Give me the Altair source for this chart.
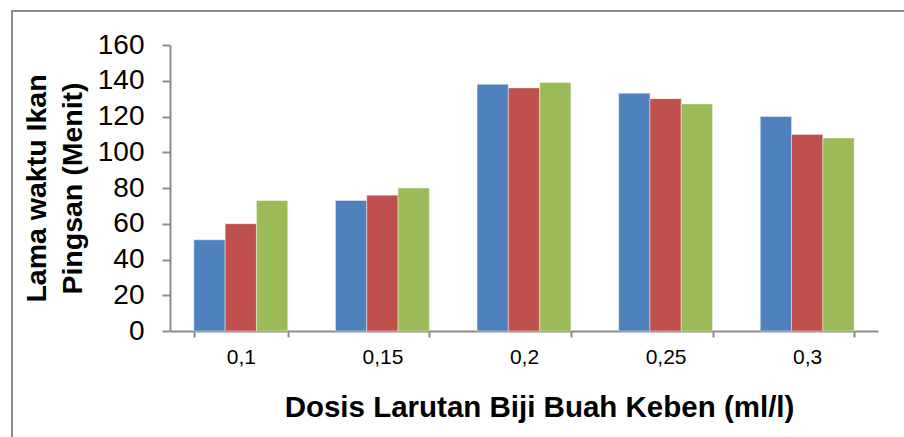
import altair as alt
import pandas as pd

# Dose categories and the three replicate series
doses = ["0,1", "0,15", "0,2", "0,25", "0,3"]
series_names = ["Ulangan 1", "Ulangan 2", "Ulangan 3"]
ulangan_1 = [51, 73, 138, 133, 120]
ulangan_2 = [60, 76, 136, 130, 110]
ulangan_3 = [73, 80, 139, 127, 108]
y_ticks = [0, 20, 40, 60, 80, 100, 120, 140, 160]
colors = ["#4F81BD", "#C0504D", "#9BBB59"]

rows = []
for name, vals in zip(series_names, [ulangan_1, ulangan_2, ulangan_3]):
    for d, v in zip(doses, vals):
        rows.append({"dosis": d, "seri": name, "menit": v})
df = pd.DataFrame(rows)

W, H = 708, 286
FONT = "Liberation Sans"
AXIS_GREY = "#8c8c8c"

bars = alt.Chart(df).mark_bar(stroke="white", strokeWidth=0.6, strokeOpacity=0.7).encode(
    x=alt.X(
        "dosis:N",
        sort=doses,
        scale=alt.Scale(paddingInner=0.337, paddingOuter=0.1685),
        axis=alt.Axis(
            title="Dosis Larutan Biji Buah Keben (ml/l)",
            labelAngle=0,
            labelFont=FONT,
            labelFontSize=21,
            labelColor="black",
            labelPadding=9,
            titleFont=FONT,
            titleFontSize=29.5,
            titleFontWeight="bold",
            titleColor="black",
            titleX=369,
            titleY=76,
            titleAlign="center",
            titleBaseline="middle",
            domainColor=AXIS_GREY,
            domainWidth=2,
            tickColor=AXIS_GREY,
            tickWidth=2,
            tickSize=6,
            tickBand="extent",
            grid=False,
        ),
    ),
    xOffset=alt.XOffset("seri:N", sort=series_names, scale=alt.Scale(paddingInner=0, paddingOuter=0)),
    y=alt.Y(
        "menit:Q",
        scale=alt.Scale(domain=[0, 160], nice=False),
        axis=alt.Axis(
            title=["Lama waktu Ikan", "Pingsan (Menit)"],
            values=y_ticks,
            labelFont=FONT,
            labelFontSize=28,
            labelColor="black",
            labelPadding=18,
            titleFont=FONT,
            titleFontSize=28.5,
            titleFontWeight="bold",
            titleColor="black",
            titleLineHeight=36,
            titleX=-134,
            titleY=H / 2,
            titleAlign="center",
            titleBaseline="middle",
            domainColor=AXIS_GREY,
            domainWidth=2,
            tickColor=AXIS_GREY,
            tickWidth=2,
            tickSize=8,
            grid=False,
        ),
    ),
    color=alt.Color(
        "seri:N",
        sort=series_names,
        scale=alt.Scale(domain=series_names, range=colors),
        legend=None,
    ),
)

# Outer chart-area border
frame = alt.Chart(pd.DataFrame({"k": [0]})).mark_rect(
    fill=None, stroke=AXIS_GREY, strokeWidth=2
).encode(
    x=alt.value(-158),
    x2=alt.value(745),
    y=alt.value(-34),
    y2=alt.value(410),
)

chart = alt.layer(frame, bars).properties(
    width=W,
    height=H,
    autosize=alt.AutoSizeParams(type="none"),
    padding={"left": 170, "top": 45, "right": 26, "bottom": 106},
    background="white",
).configure_view(stroke=None)

chart.save("out.html", embed_options={"renderer": "svg", "actions": False})
